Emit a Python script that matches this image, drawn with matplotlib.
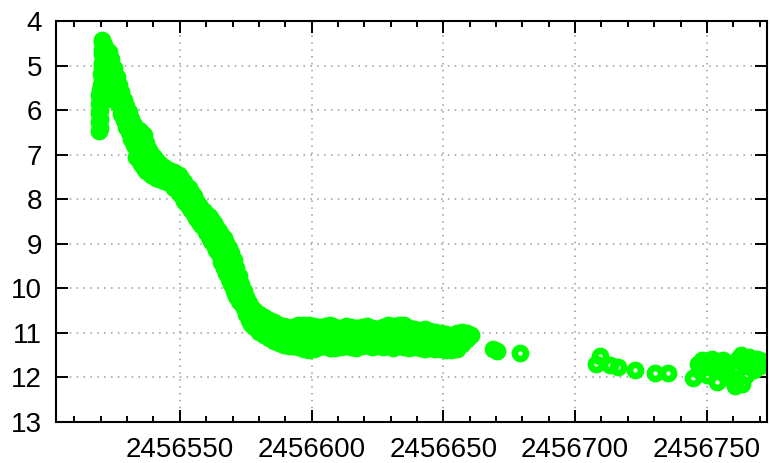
import numpy as np
import matplotlib.pyplot as plt
from matplotlib.ticker import FormatStrFormatter

JD0 = 2456500  # dias contados a partir desta data juliana

# subida e pico (dias após JD0, magnitudes por noite)
pico_t = [19.3, 19.6, 19.9, 20.3, 20.6, 21.2, 22.0]
pico_m = [[5.67, 5.87, 6.07, 6.27, 6.47],
          [5.55, 5.80, 6.00, 6.20, 6.40],
          [5.20, 5.44],
          [4.43, 4.65, 4.95, 5.10],
          [4.48, 4.75, 5.00, 5.30],
          [4.55, 4.80, 5.06, 5.33, 5.51],
          [4.62, 4.90, 5.15, 5.45]]

# declínio
declinio_t = [23.1, 24.0, 25.0, 26.0, 26.9, 27.8, 28.8, 29.7, 30.7, 31.6,
              32.6, 33.5, 34.5, 35.4, 36.4, 37.3, 38.2, 39.2, 40.1, 41.0,
              42.0, 43.9, 45.8, 47.7, 49.6, 50.5, 51.5, 52.5, 53.4, 54.4,
              55.3, 56.3, 57.2, 58.2, 59.1, 60.0, 61.0, 62.0, 62.9, 63.9,
              64.8, 65.8, 66.7, 67.6, 68.6, 69.5, 70.5, 71.4, 72.4, 73.3,
              74.3, 75.2, 76.2, 77.1, 78.1, 80.0, 81.9, 83.8, 85.7, 87.5,
              89.4, 91.3]
declinio_m = [[4.70, 4.97, 5.24, 5.51],
              [4.85, 5.12, 5.40, 5.62],
              [5.06, 5.33, 5.60, 5.78],
              [5.25, 5.50, 5.72],
              [5.44, 5.67, 5.89],
              [5.60, 5.82, 6.08],
              [5.78, 6.00, 6.23],
              [5.92, 6.15, 6.38],
              [6.05, 6.27, 6.50],
              [6.20, 6.42, 6.66],
              [6.34, 6.57, 6.79],
              [6.40, 6.62, 6.85, 7.05],
              [6.45, 6.68, 6.90, 7.13],
              [6.50, 6.73, 6.96, 7.22],
              [6.57, 6.79, 7.02, 7.31],
              [6.75, 6.98, 7.20, 7.38],
              [6.90, 7.13, 7.40],
              [6.98, 7.22, 7.45],
              [7.06, 7.29, 7.49],
              [7.13, 7.35, 7.53],
              [7.20, 7.40, 7.56],
              [7.29, 7.47, 7.60],
              [7.35, 7.51, 7.65],
              [7.40, 7.58, 7.76],
              [7.47, 7.67, 7.87],
              [7.52, 7.72, 7.92],
              [7.62, 7.83, 8.04],
              [7.70, 7.90, 8.10],
              [7.76, 7.98, 8.18],
              [7.85, 8.05, 8.25],
              [7.94, 8.14, 8.33],
              [8.04, 8.23, 8.42],
              [8.14, 8.33, 8.52],
              [8.22, 8.40, 8.58],
              [8.27, 8.45, 8.64],
              [8.33, 8.53, 8.74],
              [8.38, 8.60, 8.85],
              [8.46, 8.69, 8.94],
              [8.54, 8.78, 9.04],
              [8.63, 8.87, 9.14],
              [8.72, 8.96, 9.24],
              [8.80, 9.05, 9.32, 9.42],
              [8.87, 9.14, 9.40, 9.55],
              [8.98, 9.25, 9.52, 9.66],
              [9.10, 9.37, 9.64, 9.80],
              [9.22, 9.50, 9.77, 9.92],
              [9.38, 9.65, 9.92, 10.06],
              [9.55, 9.80, 10.05, 10.18],
              [9.72, 9.97, 10.22, 10.30],
              [9.90, 10.12, 10.34],
              [10.06, 10.27, 10.46],
              [10.20, 10.40, 10.58],
              [10.33, 10.52, 10.72],
              [10.42, 10.60, 10.80],
              [10.50, 10.68, 10.87],
              [10.58, 10.76, 10.98],
              [10.66, 10.85, 11.06],
              [10.72, 10.92, 11.12],
              [10.77, 10.98, 11.18],
              [10.82, 11.02, 11.24],
              [10.86, 11.07, 11.28],
              [10.89, 11.11, 11.31]]

# platô em torno de mag 11
plato_t = [93, 95, 97, 99, 101, 103, 105, 107, 109, 111, 113, 115, 117, 119,
           121, 123, 125, 127, 129, 131, 133, 135, 137, 139, 141, 143, 145,
           147, 149, 151, 153, 155, 157, 159, 160.5]
plato_m = [[10.88, 11.10, 11.31], [10.84, 11.08, 11.33], [10.82, 11.06, 11.36],
           [10.83, 11.08, 11.40], [10.85, 11.12, 11.38], [10.88, 11.10, 11.33],
           [10.86, 11.08, 11.31], [10.84, 11.09, 11.34], [10.88, 11.12, 11.35],
           [10.90, 11.10, 11.32], [10.85, 11.08, 11.30], [10.87, 11.11, 11.33],
           [10.90, 11.12, 11.35], [10.88, 11.10, 11.31], [10.86, 11.07, 11.29],
           [10.89, 11.10, 11.32], [10.91, 11.12, 11.30], [10.88, 11.09, 11.33],
           [10.84, 11.06, 11.31], [10.86, 11.10, 11.34], [10.82, 11.05, 11.30],
           [10.84, 11.08, 11.32], [10.90, 11.12, 11.34], [10.93, 11.14, 11.33],
           [10.95, 11.15, 11.35], [10.92, 11.13, 11.36], [10.96, 11.16, 11.35],
           [10.98, 11.18, 11.37], [11.00, 11.20, 11.38], [11.03, 11.22, 11.39],
           [11.08, 11.26, 11.40], [11.02, 11.20, 11.38], [10.98, 11.10, 11.25],
           [11.00, 11.15], [11.05]]

# pontos esparsos no final
tardio_t = [168.7, 170.3, 179.0,
            208.0, 209.3, 213.1, 216.2, 222.6, 230.2, 235.1, 244.6,
            246.5, 247.0, 248.0, 249.0, 250.0, 251.0, 252.0, 253.0, 253.7,
            255.0, 256.0, 257.0, 258.0, 259.0, 260.5, 261.0, 262.0, 263.0,
            263.5, 264.0, 265.0, 266.0, 267.0, 268.0, 269.0, 270.0, 271.0]
tardio_m = [11.38, 11.42, 11.45,
            11.70, 11.52, 11.74, 11.78, 11.85, 11.92, 11.92, 12.03,
            11.70, 11.85, 11.62, 11.78, 11.95, 11.70, 11.60, 11.85, 12.12,
            11.75, 11.62, 11.90, 11.70, 12.05, 12.20, 11.80, 11.60, 11.50,
            12.15, 11.75, 11.95, 11.55, 11.70, 11.85, 11.60, 11.75, 11.65]

t = []
m = []
for tt, mm in zip(pico_t + declinio_t + plato_t, pico_m + declinio_m + plato_m):
    t += [tt] * len(mm)
    m += mm
t = np.array(t + tardio_t) + JD0
m = np.array(m + tardio_m)

plt.rcParams['font.family'] = ['Liberation Sans', 'DejaVu Sans']

fig = plt.figure(figsize=(7.7, 4.63), dpi=100)
ax = fig.add_axes([0.0727, 0.0896, 0.924, 0.865])

ax.plot(t, m, 'o', mfc='none', mec='#00ff00', ms=8, mew=4.8)

ax.set_xlim(2456503, 2456773)
ax.set_ylim(13, 4)
ax.set_xticks([2456550, 2456600, 2456650, 2456700, 2456750])
ax.set_xticks(np.arange(2456510, 2456771, 10), minor=True)
ax.set_yticks(range(4, 14))
ax.xaxis.set_major_formatter(FormatStrFormatter('%d'))

ax.grid(True, which='major', color='#999999', linestyle=(0, (1, 3.5)), linewidth=1.1)
ax.tick_params(which='both', direction='in', top=True, right=True, width=1.4,
               labelsize=20, colors='black')
ax.tick_params(which='major', length=8.5)
ax.tick_params(which='minor', length=4.5)
ax.tick_params(axis='x', pad=11)
ax.tick_params(axis='y', pad=10)
for s in ax.spines.values():
    s.set_linewidth(1.5)

fig.savefig('out.png', dpi=100)
